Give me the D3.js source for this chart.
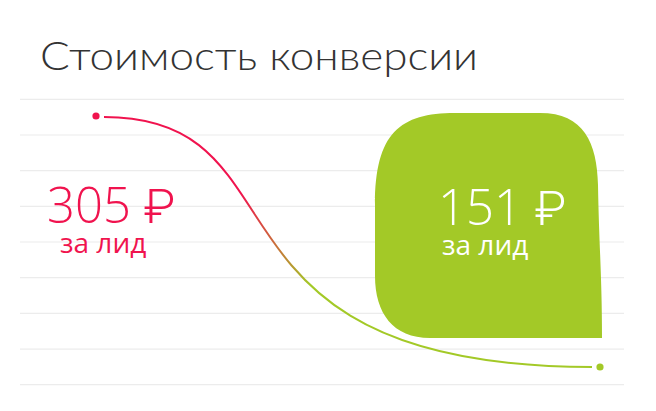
<!DOCTYPE html>
<html>
<head>
<meta charset="utf-8">
<script src="https://cdn.jsdelivr.net/npm/d3@7"></script>
<style>
  html, body { margin: 0; padding: 0; background: #fff; }
  svg { display: block; }
</style>
</head>
<body>
<div id="chart"></div>
<script>
const title = 'Стоимость конверсии';
const stages = ['before', 'after'];
const costs = [305, 151];
const costNumbers = ['305', '151'];
const currency = '₽';
const unitLabel = 'за лид';
const gridRows = d3.range(9);

const width = 656, height = 411;
const red = '#f0134e', green = '#a3c927';

const svg = d3.select('#chart').append('svg')
  .attr('width', width).attr('height', height);

const x = d3.scalePoint().domain(stages).range([96, 600]);
const y = d3.scaleLinear().domain([151, 305]).range([367, 116]);
const gy = d3.scaleLinear().domain([0, gridRows.length - 1]).range([99.3, 384.7]);

// grid
svg.append('g').selectAll('line').data(gridRows).join('line')
  .attr('x1', 20).attr('x2', 624)
  .attr('y1', d => gy(d)).attr('y2', d => gy(d))
  .attr('stroke', '#ececec').attr('stroke-width', 1.2);

// title
svg.append('text')
  .attr('x', 40).attr('y', 70)
  .attr('font-family', 'Lato, "Open Sans", sans-serif')
  .attr('font-weight', 300).attr('font-size', 39)
  .attr('textLength', 438).attr('lengthAdjust', 'spacingAndGlyphs')
  .attr('fill', '#333')
  .text(title);

// green bubble behind the lower value
const bx0 = 375, bx1 = 602, by0 = 113, by1 = 338;
const bubble = d3.path();
bubble.moveTo(bx1, by1);
bubble.lineTo(bx0 + 55, by1);
bubble.bezierCurveTo(bx0 + 18, by1, bx0, by1 - 25, bx0, by1 - 62);
bubble.lineTo(bx0, by0 + 92);
bubble.bezierCurveTo(bx0, by0 + 20, bx0 + 25, by0, bx0 + 80, by0);
bubble.lineTo(bx1 - 62, by0);
bubble.bezierCurveTo(bx1 - 18, by0, bx1 - 5, by0 + 30, bx1 - 4, by0 + 72);
bubble.bezierCurveTo(bx1 - 3, by0 + 130, bx1, by1 - 60, bx1, by1);
bubble.closePath();
svg.append('path').attr('d', bubble.toString()).attr('fill', green);

// gradient curve
const grad = svg.append('defs').append('linearGradient')
  .attr('id', 'curveGrad').attr('gradientUnits', 'userSpaceOnUse')
  .attr('x1', 240).attr('x2', 310).attr('y1', 0).attr('y2', 0);
grad.append('stop').attr('offset', 0).attr('stop-color', red);
grad.append('stop').attr('offset', 1).attr('stop-color', green);

const p0 = [x(stages[0]) + 8, y(costs[0]) + 1];
const p1 = [x(stages[1]) - 8, y(costs[1])];
const span = p1[0] - p0[0];
const curve = d3.path();
curve.moveTo(p0[0], p0[1]);
curve.bezierCurveTo(p0[0] + span * 0.43, p0[1], p0[0] + span * 0.162, p1[1], p1[0], p1[1]);
svg.append('path').attr('d', curve.toString())
  .attr('fill', 'none').attr('stroke', 'url(#curveGrad)').attr('stroke-width', 2);

svg.append('g').selectAll('circle').data(stages).join('circle')
  .attr('cx', d => x(d)).attr('cy', (d, i) => y(costs[i]))
  .attr('r', 3.6).attr('fill', (d, i) => i === 0 ? red : green);

// value labels
const labelPos = [{ x: 47, y: 223, ux: 60, uy: 253, c: red }, { x: 438, y: 225, ux: 442, uy: 255, c: '#fff' }];
const lg = svg.append('g').attr('font-family', '"Open Sans", sans-serif');
const vals = lg.selectAll('text.val').data(costNumbers).join('text')
  .attr('class', 'val')
  .attr('x', (d, i) => labelPos[i].x).attr('y', (d, i) => labelPos[i].y)
  .attr('font-size', 49).attr('font-weight', 300)
  .attr('fill', (d, i) => labelPos[i].c);
vals.append('tspan').text(d => d + ' ');
vals.append('tspan')
  .attr('font-family', 'Roboto, "Noto Sans", sans-serif').attr('font-weight', 300)
  .text(currency);
lg.selectAll('text.unit').data(costNumbers).join('text')
  .attr('class', 'unit')
  .attr('x', (d, i) => labelPos[i].ux).attr('y', (d, i) => labelPos[i].uy)
  .attr('font-size', 28).attr('font-weight', 400)
  .attr('fill', (d, i) => labelPos[i].c)
  .text(unitLabel);
</script>
</body>
</html>
